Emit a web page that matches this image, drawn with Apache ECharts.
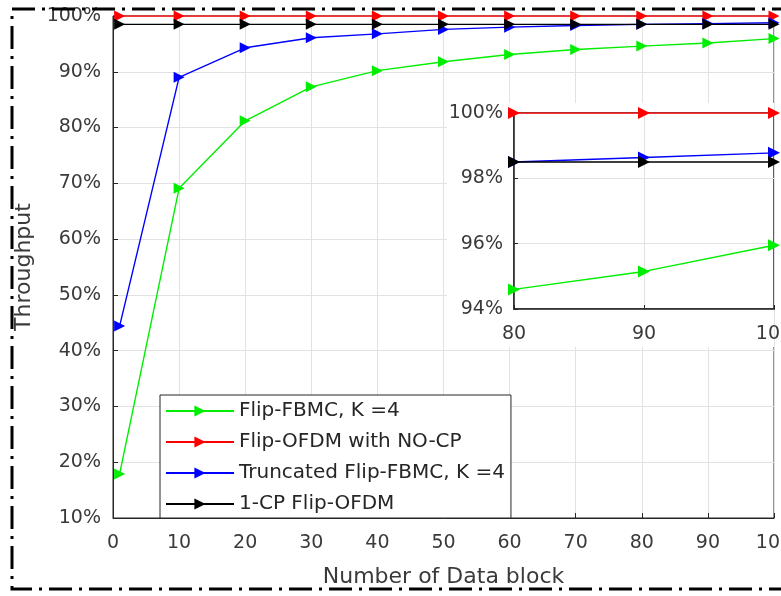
<!DOCTYPE html>
<html>
<head>
<meta charset="utf-8">
<script src="https://cdn.jsdelivr.net/npm/echarts@6/dist/echarts.min.js"></script>
<style>
html,body{margin:0;padding:0;background:#fff;}
#chart{width:781px;height:596px;}
</style>
</head>
<body>
<div id="chart"></div>
<script>
// ---- data ----
const blocks = [1, 10, 20, 30, 40, 50, 60, 70, 80, 90, 100];
const flipFbmc = [17.9, 69.1, 81.2, 87.3, 90.2, 91.8, 93.1, 94.0, 94.6, 95.15, 95.95];
const flipOfdmNoCp = [100, 100, 100, 100, 100, 100, 100, 100, 100, 100, 100];
const truncFbmc = [44.4, 89.0, 94.3, 96.1, 96.8, 97.6, 98.0, 98.3, 98.5, 98.64, 98.78];
const cp1Ofdm = [98.5, 98.5, 98.5, 98.5, 98.5, 98.5, 98.5, 98.5, 98.5, 98.5, 98.5];
const seriesNames = ['Flip-FBMC, K =4', 'Flip-OFDM with NO-CP', 'Truncated Flip-FBMC, K =4', '1-CP Flip-OFDM'];
const seriesColors = ['#00ee00', '#ff0000', '#0000ff', '#000000'];
const xTitle = 'Number of Data block';
const yTitle = 'Throughput';
const insetFrom = 80;

const allValues = [flipFbmc, flipOfdmNoCp, truncFbmc, cp1Ofdm];
const FONT = 'DejaVu Sans';
const TXT = '#3a3a3a';
const GRIDC = '#e2e2e2';
const AXC = '#262626';
const tri = 'path://M0,0L10,5L0,10Z';

function pairs(vals, from) {
  return blocks.map((x, i) => [x, vals[i]]).filter(p => p[0] >= (from || -Infinity));
}

const series = [];
allValues.forEach((vals, i) => {
  series.push({
    name: seriesNames[i], type: 'line', xAxisIndex: 0, yAxisIndex: 0,
    data: pairs(vals), symbol: tri, symbolSize: 11, showSymbol: true,
    lineStyle: { color: seriesColors[i], width: 1.4 },
    itemStyle: { color: seriesColors[i] },
    z: 2, animation: false
  });
});
allValues.forEach((vals, i) => {
  series.push({
    name: seriesNames[i], type: 'line', xAxisIndex: 1, yAxisIndex: 1,
    data: pairs(vals, insetFrom), symbol: tri, symbolSize: 12,
    lineStyle: { color: seriesColors[i], width: 1.4 },
    itemStyle: { color: seriesColors[i] },
    z: 6, animation: false
  });
});

const chart = echarts.init(document.getElementById('chart'), null, { renderer: 'canvas' });
chart.setOption({
  backgroundColor: '#ffffff',
  animation: false,
  textStyle: { fontFamily: FONT },
  grid: [
    { left: 113, right: 7, top: 16, bottom: 78, show: true, borderColor: AXC, borderWidth: 1, backgroundColor: 'transparent', containLabel: false, outerBoundsMode: 'none' },
    { left: 514, right: 7, top: 113, bottom: 287, show: true, borderColor: AXC, borderWidth: 1.5, backgroundColor: 'transparent', z: 4, containLabel: false, outerBoundsMode: 'none' }
  ],
  xAxis: [
    {
      gridIndex: 0, type: 'value', min: 0, max: 100, interval: 10,
      name: xTitle, nameLocation: 'middle', nameGap: 48,
      nameTextStyle: { fontSize: 22, color: TXT, fontFamily: FONT },
      axisLine: { show: true, lineStyle: { color: AXC, width: 1 } },
      axisTick: { show: true, inside: true, length: 5, lineStyle: { color: AXC } },
      axisLabel: { fontSize: 19, color: TXT, margin: 16, fontFamily: FONT, showMaxLabel: true },
      splitLine: { show: true, lineStyle: { color: GRIDC, width: 1 } }
    },
    {
      gridIndex: 1, type: 'value', min: 80, max: 100, interval: 10, z: 5,
      axisLine: { show: true, lineStyle: { color: AXC, width: 1.5 } },
      axisTick: { show: true, inside: true, length: 4, lineStyle: { color: AXC } },
      axisLabel: { fontSize: 19, color: TXT, margin: 16, fontFamily: FONT },
      splitLine: { show: true, lineStyle: { color: GRIDC, width: 1 } }
    }
  ],
  yAxis: [
    {
      gridIndex: 0, type: 'value', min: 10, max: 100, interval: 10,
      name: yTitle, nameLocation: 'middle', nameGap: 73,
      nameTextStyle: { fontSize: 22, color: TXT, fontFamily: FONT },
      axisLine: { show: true, lineStyle: { color: AXC, width: 1 } },
      axisTick: { show: true, inside: true, length: 5, lineStyle: { color: AXC } },
      axisLabel: { fontSize: 19, color: TXT, margin: 12, fontFamily: FONT, formatter: '{value}%' },
      splitLine: { show: true, lineStyle: { color: GRIDC, width: 1 } }
    },
    {
      gridIndex: 1, type: 'value', min: 94, max: 100, interval: 2, z: 5,
      axisLine: { show: true, lineStyle: { color: AXC, width: 1.5 } },
      axisTick: { show: true, inside: true, length: 4, lineStyle: { color: AXC } },
      axisLabel: { fontSize: 19, color: TXT, margin: 11, fontFamily: FONT, formatter: '{value}%' },
      splitLine: { show: true, lineStyle: { color: GRIDC, width: 1 } }
    }
  ],
  legend: {
    data: seriesNames,
    orient: 'vertical',
    left: 160, top: 395,
    padding: [6, 6, 4, 5],
    itemGap: 11,
    itemWidth: 68, itemHeight: 14,
    backgroundColor: '#ffffff',
    borderColor: AXC, borderWidth: 1, borderRadius: 0,
    textStyle: { fontSize: 20, color: '#262626', fontFamily: FONT, lineHeight: 20 },
    selectedMode: false,
    z: 10
  },
  graphic: [
    {
      type: 'rect', z: 1, silent: true,
      shape: { x: 447, y: 103, width: 327, height: 244 },
      style: { fill: '#ffffff', stroke: null }
    },
    {
      type: 'rect', z: 20, silent: true,
      shape: { x: 12, y: 9, width: 820, height: 580 },
      style: { fill: null, stroke: '#000000', lineWidth: 3, lineDash: [23, 7, 3, 7] }
    }
  ],
  series: series
});
</script>
</body>
</html>
